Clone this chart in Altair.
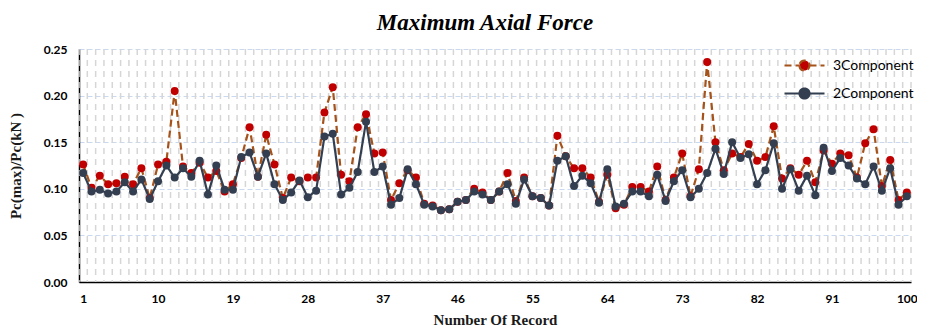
import altair as alt
import pandas as pd

records = list(range(1, 101))

comp3 = [0.126, 0.101, 0.114, 0.105, 0.106, 0.113, 0.105, 0.122, 0.090, 0.126,
         0.129, 0.205, 0.124, 0.117, 0.128, 0.112, 0.119, 0.097, 0.105, 0.133,
         0.166, 0.113, 0.158, 0.126, 0.090, 0.112, 0.108, 0.112, 0.112, 0.182,
         0.209, 0.115, 0.108, 0.166, 0.180, 0.138, 0.139, 0.088, 0.106, 0.120,
         0.112, 0.084, 0.082, 0.077, 0.078, 0.086, 0.088, 0.100, 0.096, 0.088,
         0.097, 0.117, 0.087, 0.112, 0.092, 0.090, 0.082, 0.157, 0.135, 0.122,
         0.122, 0.112, 0.086, 0.115, 0.079, 0.083, 0.102, 0.102, 0.097, 0.124,
         0.088, 0.112, 0.138, 0.092, 0.121, 0.236, 0.150, 0.120, 0.138, 0.134,
         0.148, 0.130, 0.134, 0.167, 0.111, 0.122, 0.115, 0.130, 0.107, 0.141,
         0.127, 0.138, 0.136, 0.112, 0.149, 0.164, 0.103, 0.131, 0.088, 0.096]

comp2 = [0.117, 0.097, 0.099, 0.095, 0.097, 0.107, 0.097, 0.110, 0.089, 0.108,
         0.125, 0.112, 0.122, 0.113, 0.130, 0.094, 0.125, 0.099, 0.099, 0.134,
         0.139, 0.113, 0.138, 0.105, 0.088, 0.096, 0.109, 0.091, 0.098, 0.156,
         0.159, 0.094, 0.101, 0.118, 0.172, 0.118, 0.124, 0.083, 0.090, 0.121,
         0.105, 0.083, 0.081, 0.077, 0.078, 0.086, 0.088, 0.097, 0.094, 0.088,
         0.097, 0.105, 0.084, 0.110, 0.092, 0.090, 0.082, 0.130, 0.135, 0.103,
         0.114, 0.106, 0.085, 0.121, 0.081, 0.084, 0.097, 0.097, 0.092, 0.115,
         0.087, 0.108, 0.120, 0.091, 0.100, 0.117, 0.143, 0.116, 0.150, 0.133,
         0.137, 0.105, 0.120, 0.149, 0.100, 0.121, 0.098, 0.114, 0.093, 0.144,
         0.119, 0.133, 0.125, 0.111, 0.105, 0.124, 0.098, 0.122, 0.083, 0.092]

series_names = ["3Component", "2Component"]
x_tick_labels = [1, 10, 19, 28, 37, 46, 55, 64, 73, 82, 91, 100]
y_ticks = [0.00, 0.05, 0.10, 0.15, 0.20, 0.25]

df3 = pd.DataFrame({"record": records, "value": comp3, "series": series_names[0]})
df2 = pd.DataFrame({"record": records, "value": comp2, "series": series_names[1]})
grid_df = pd.DataFrame({"b": [r - 0.5 for r in records] + [records[-1] + 0.5]})

xscale = alt.Scale(domain=[0.5, 100.5], nice=False, zero=False)
yscale = alt.Scale(domain=[0, 0.25], nice=False)

xaxis = alt.Axis(values=x_tick_labels, title="Number Of Record", labelFont="Lato",
                 labelFontWeight="bold", labelFontSize=12, labelColor="black",
                 titleFont="Liberation Serif", titleFontSize=15, titleFontWeight="bold",
                 titleColor="#1a1a1a", grid=False, ticks=False, domainColor="black",
                 domainWidth=1.5, labelPadding=11, titlePadding=8, labelFlush=False)
yaxis = alt.Axis(values=y_ticks, format=".2f", title="Pc(max)/Pc(kN )",
                 titleFont="Liberation Serif", titleFontSize=15, titleFontWeight="bold",
                 titleColor="#1a1a1a", labelFont="Lato", labelFontWeight="bold",
                 labelFontSize=12, labelColor="black", grid=True, gridColor="#c9daf0",
                 gridDash=[5, 3], gridWidth=1.2, domainColor="black", domainWidth=1.5,
                 ticks=False, labelPadding=12, titlePadding=20)

PATH = "M-2,0L-0.5,0M0.5,0L2,0M-0.5,0A0.5,0.5,0,1,0,0.5,0A0.5,0.5,0,1,0,-0.5,0Z"
legend = alt.Legend(title=None, orient="none", legendX=714, legendY=5, symbolType=PATH,
                    symbolSize=400, symbolStrokeWidth=2.2, labelFont="Lato",
                    labelFontSize=14, labelColor="black", rowPadding=7, labelOffset=17,
                    padding=0)

stroke_scale = alt.Scale(domain=series_names, range=["#a5521b", "#333f50"])
fill_scale = alt.Scale(domain=series_names, range=["#c00000", "#333f50"])
dash_scale = alt.Scale(domain=series_names, range=[[7, 4], [1, 0]])

X = alt.X("record:Q", scale=xscale, axis=xaxis)
Y = alt.Y("value:Q", scale=yscale, axis=yaxis)

grid = alt.Chart(grid_df).mark_rule(color="#d6d6d6", strokeDash=[6, 5], strokeWidth=1.5).encode(
    x=alt.X("b:Q", scale=xscale, axis=xaxis)
)

def line_layer(d):
    return alt.Chart(d).mark_line(strokeWidth=2.2).encode(
        x=X, y=Y,
        stroke=alt.Stroke("series:N", scale=stroke_scale, legend=legend),
        strokeDash=alt.StrokeDash("series:N", scale=dash_scale, legend=legend),
    )

def point_layer(d):
    return alt.Chart(d).mark_point(filled=True, size=64, opacity=1, strokeWidth=0).encode(
        x=X, y=Y,
        fill=alt.Fill("series:N", scale=fill_scale, legend=legend),
    )

chart = alt.layer(
    grid,
    line_layer(df3), point_layer(df3),
    line_layer(df2), point_layer(df2),
).properties(
    width=909, height=319,
    autosize=alt.AutoSizeParams(type="fit", contains="padding"),
    padding={"left": 0, "top": 4, "right": 0, "bottom": 0},
    title=alt.TitleParams("Maximum Axial Force", font="Liberation Serif", fontSize=23,
                          fontStyle="italic", fontWeight="bold", color="black",
                          anchor="middle", offset=8, dx=-10),
).configure_view(stroke=None)

chart.save("out.html", embed_options={"renderer": "svg", "actions": False})
